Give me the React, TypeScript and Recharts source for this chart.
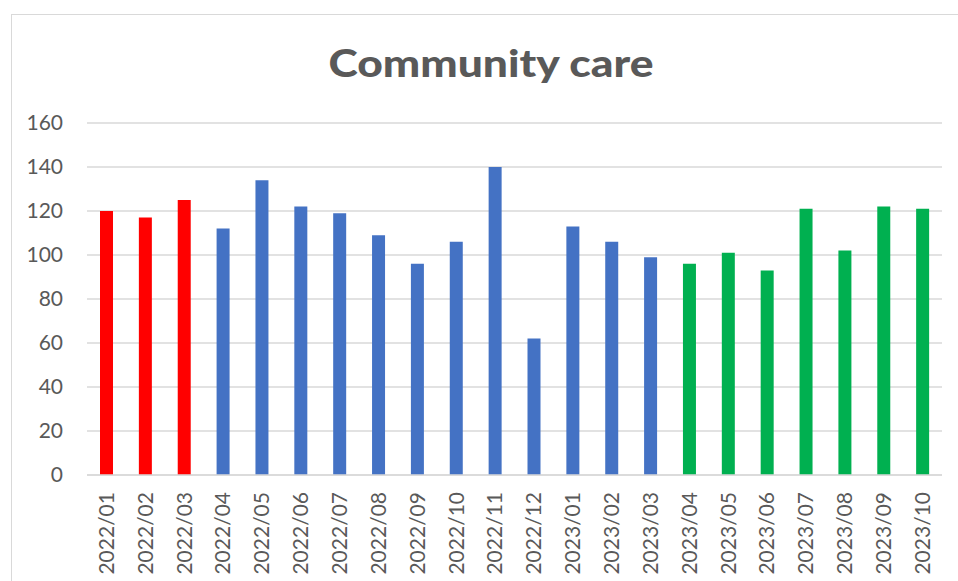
import React from 'react';
import { BarChart, Bar, XAxis, YAxis, CartesianGrid, Cell } from 'recharts';

const categories = [
  '2022/01', '2022/02', '2022/03', '2022/04', '2022/05', '2022/06', '2022/07', '2022/08',
  '2022/09', '2022/10', '2022/11', '2022/12', '2023/01', '2023/02', '2023/03', '2023/04',
  '2023/05', '2023/06', '2023/07', '2023/08', '2023/09', '2023/10',
];
const values = [120, 117, 125, 112, 134, 122, 119, 109, 96, 106, 140, 62, 113, 106, 99, 96, 101, 93, 121, 102, 122, 121];
const yTicks = [0, 20, 40, 60, 80, 100, 120, 140, 160];
const title = 'Community care';

const RED = '#FF0000';
const BLUE = '#4472C4';
const GREEN = '#00B050';
const colorFor = (i: number) => (i < 3 ? RED : i < 15 ? BLUE : GREEN);

const data = categories.map((c, i) => ({ name: c, value: values[i] }));

const FONT = 'Lato, "Open Sans", sans-serif';

const XTick = (props: any) => {
  const { x, y, payload } = props;
  return (
    <text
      x={x}
      y={y}
      transform={`rotate(-90, ${x}, ${y})`}
      textAnchor="end"
      dy="0.35em"
      fill="#595959"
      fontSize={21}
      fontFamily={FONT}
    >
      {payload.value}
    </text>
  );
};

export default function App() {
  return (
    <div style={{ position: 'fixed', left: 0, top: 0, width: 958, height: 581, overflow: 'hidden', background: '#fff' }}>
      <div
        style={{
          position: 'absolute',
          left: 11,
          top: 14,
          width: 1000,
          height: 700,
          border: '1px solid #D9D9D9',
          boxSizing: 'border-box',
        }}
      />
      <svg style={{ position: 'absolute', left: 0, top: 0 }} width={958} height={120}>
        <text
          x={491}
          y={77}
          textAnchor="middle"
          fill="#595959"
          fontSize={37}
          fontWeight={900}
          fontFamily='Lato, "Open Sans", sans-serif'
          textLength={325}
          lengthAdjust="spacingAndGlyphs"
        >
          {title}
        </text>
      </svg>
      <div style={{ position: 'absolute', left: 0, top: 0 }}>
        <BarChart
          width={958}
          height={581}
          data={data}
          margin={{ top: 123, right: 16, bottom: 0, left: 0 }}
        >
          <CartesianGrid horizontal vertical={false} stroke="#D9D9D9" strokeWidth={1.3} />
          <XAxis
            dataKey="name"
            interval={0}
            height={106}
            tickLine={false}
            tickSize={6}
            tickMargin={11}
            axisLine={{ stroke: '#D9D9D9', strokeWidth: 1.3 }}
            tick={<XTick />}
          />
          <YAxis
            domain={[0, 160]}
            ticks={yTicks}
            width={87}
            axisLine={false}
            tickLine={false}
            tickSize={6}
            tickMargin={18}
            tick={{ fill: '#595959', fontSize: 21, fontFamily: FONT }}
            interval={0}
          />
          <Bar dataKey="value" barSize={13} isAnimationActive={false}>
            {data.map((d, i) => (
              <Cell key={d.name} fill={colorFor(i)} />
            ))}
          </Bar>
        </BarChart>
      </div>
    </div>
  );
}
